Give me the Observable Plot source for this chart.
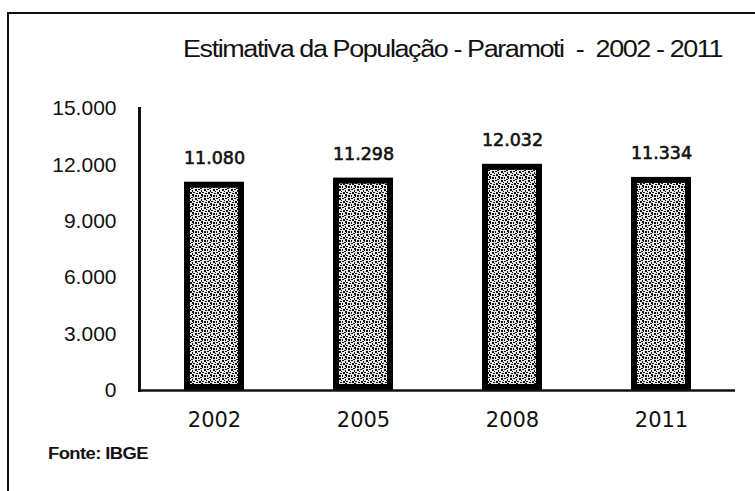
<!DOCTYPE html>
<html>
<head>
<meta charset="utf-8">
<script src="https://cdn.jsdelivr.net/npm/d3@7"></script>
<script src="https://cdn.jsdelivr.net/npm/@observablehq/plot@0.6"></script>
<style>
  html, body { margin: 0; padding: 0; background: #fff; width: 755px; height: 491px; overflow: hidden; }
  #wrap { position: relative; width: 755px; height: 491px; }
  #frame { position: absolute; left: 7px; top: 12px; width: 800px; height: 520px; border: 2px solid #111; box-sizing: border-box; }
  #title { position: absolute; left: 183px; top: 36px; white-space: pre; transform-origin: 0 0; font-family: "Liberation Sans", Arial, sans-serif; font-size: 23px; letter-spacing: -1.2px; line-height: 26px; color: #111; }
  #caption { position: absolute; left: 48px; top: 444px; white-space: pre; transform-origin: 0 0; font-family: "Liberation Sans", Arial, sans-serif; font-weight: bold; font-size: 16px; letter-spacing: -0.5px; line-height: 20px; color: #111; }
  #chart { position: absolute; left: 0; top: 0; }
</style>
</head>
<body>
<div id="wrap">
  <div id="frame"></div>
  <div id="chart"></div>
  <span id="title">Estimativa da População - Paramoti  -  2002 - 2011</span>
  <span id="caption">Fonte: IBGE</span>
</div>
<script>
const years = ["2002", "2005", "2008", "2011"];
const population = [11080, 11298, 12032, 11334];
const valueLabels = ["11.080", "11.298", "12.032", "11.334"];
const yTicks = [0, 3000, 6000, 9000, 12000, 15000];
const yTickLabels = ["0", "3.000", "6.000", "9.000", "12.000", "15.000"];

const data = years.map((y, i) => ({year: y, value: population[i], label: valueLabels[i]}));

const chart = Plot.plot({
  width: 755,
  height: 491,
  marginLeft: 139,
  marginRight: 20,
  marginTop: 108,
  marginBottom: 101,
  style: {background: "transparent", overflow: "visible"},
  x: {domain: years, paddingInner: 0.6, paddingOuter: 0.3, label: null},
  y: {domain: [0, 15000], label: null},
  marks: [
    Plot.barY(data, {x: "year", y: "value", fill: "#8a8a8a", stroke: "#000", strokeWidth: 6, inset: 3, className: "popbar"}),
    Plot.text(data, {x: "year", y: "value", text: "label", dy: -24, fontFamily: "DejaVu Sans, sans-serif", fontSize: 17.5, fill: "#111", stroke: "#111", strokeWidth: 0.6}),
    Plot.axisY(yTicks, {tickSize: 0, tickPadding: 23, tickFormat: (d) => yTickLabels[yTicks.indexOf(d)], fontSize: 21, fontFamily: "Liberation Sans, Arial, sans-serif", fill: "#111", stroke: "#111", strokeWidth: 0.4}),
    Plot.axisX({tickSize: 0, tickPadding: 22, fontSize: 21, fontFamily: "DejaVu Sans, sans-serif", fill: "#111"}),
    Plot.frame({anchor: "left", stroke: "#111", strokeWidth: 3}),
    Plot.ruleY([0], {stroke: "#111", strokeWidth: 2.5})
  ]
});
document.getElementById("chart").appendChild(chart);

// stippled texture for the bars
const svg = d3.select(chart.tagName === "svg" ? chart : chart.querySelector("svg"));
const defs = svg.insert("defs", ":first-child");
const pat = defs.append("pattern").attr("id", "stipple").attr("patternUnits", "userSpaceOnUse").attr("width", 9).attr("height", 9);
pat.append("rect").attr("width", 9).attr("height", 9).attr("fill", "#e6e6e6");
const dots = [[0,0,2,1],[3,1,1,2],[6,0,2,2],[1,3,2,2],[5,3,1,1],[7,4,2,1],[0,6,1,2],[3,5,2,2],[6,6,2,2],[2,8,2,1],[8,2,1,1],[4,7,1,1],[4,3,1,1]];
dots.forEach(([x, y, w, h]) => pat.append("rect").attr("x", x).attr("y", y).attr("width", w).attr("height", h).attr("fill", "#111"));
svg.selectAll(".popbar rect").attr("fill", "url(#stipple)");

// fit title and caption to their widths in the reference
function fit(id, w) {
  const el = document.getElementById(id);
  const r = el.getBoundingClientRect();
  el.style.transform = `scaleX(${w / r.width})`;
}
fit("title", 539);
fit("caption", 100);
</script>
</body>
</html>
